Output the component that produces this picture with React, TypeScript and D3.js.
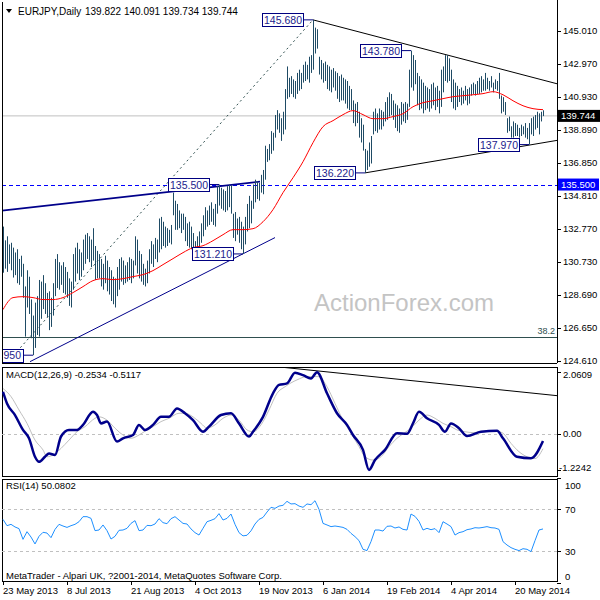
import React from 'react';
import * as d3 from 'd3';

// ---------- DATA ----------
const highs = [
  132.90,132.05,132.30,131.80,131.90,131.60,131.30,131.50,130.90,131.10,
  130.60,129.20,130.20,129.80,128.40,127.40,128.20,128.60,129.60,129.50,
  129.90,129.40,128.80,128.90,128.50,129.40,130.90,131.20,130.70,130.50,
  130.70,130.40,130.10,129.70,129.50,131.20,131.60,131.90,131.50,131.30,
  132.10,132.40,132.50,132.30,132.10,132.80,131.70,131.40,131.20,130.90,
  130.60,131.10,130.80,130.40,130.20,129.80,129.70,130.40,130.90,131.00,
  130.80,130.50,130.70,131.00,130.90,130.80,132.30,132.10,131.40,131.20,
  130.60,130.30,130.80,131.50,132.00,131.80,132.20,132.10,133.40,133.50,
  133.20,132.90,132.80,132.70,133.00,135.00,134.50,134.30,133.90,133.70,
  133.70,133.50,133.10,133.20,132.90,132.50,132.00,132.30,132.60,133.10,
  133.60,134.10,133.90,134.20,134.40,134.00,134.30,135.40,135.50,135.30,
  135.20,135.10,135.40,135.50,135.45,133.70,133.80,133.40,133.50,133.20,
  132.90,133.50,134.30,134.80,134.50,135.50,135.80,135.70,135.60,136.10,
  136.40,137.90,137.70,138.00,138.80,138.70,139.80,140.10,139.90,139.60,
  140.00,141.40,142.80,142.10,142.20,142.00,141.90,142.40,142.60,142.40,
  142.90,143.10,142.90,143.40,143.50,145.68,145.20,145.10,143.40,143.20,
  143.00,143.10,142.90,142.80,142.60,142.70,142.50,142.40,142.20,142.30,
  142.10,142.00,141.90,141.60,141.40,140.70,140.50,140.60,140.00,139.60,
  139.20,137.70,137.60,138.10,138.50,140.00,140.20,139.90,140.20,140.10,
  140.00,140.60,140.90,141.20,141.10,140.70,140.50,140.40,140.20,140.60,
  140.50,140.60,140.50,142.60,143.78,143.50,143.20,142.40,142.20,142.00,
  141.80,141.60,141.50,141.40,141.70,141.80,141.50,141.60,141.30,142.60,
  142.80,143.50,143.50,143.30,142.60,142.00,141.80,141.60,141.40,141.50,
  141.30,141.60,141.40,141.50,141.70,141.80,141.70,141.90,142.10,142.20,
  142.00,142.40,142.10,141.90,142.20,141.80,142.00,141.90,142.40,141.00,
  140.90,140.60,139.60,139.70,139.10,139.40,139.30,139.20,139.00,139.20,
  139.10,139.30,139.00,139.30,139.60,139.70,139.80,140.00,139.90,140.00,
  140.09,
];
const lows = [
  130.05,130.30,130.10,130.60,130.20,129.75,129.90,129.40,129.30,129.80,
  128.50,126.10,127.90,127.50,126.00,124.95,125.40,126.20,126.10,127.20,
  127.80,127.50,127.30,126.50,126.70,127.40,128.60,129.10,129.00,129.30,
  128.80,128.70,128.50,128.00,127.90,129.00,129.50,130.00,129.60,129.80,
  130.20,130.60,130.90,130.70,130.40,130.80,129.60,129.70,129.70,129.20,
  129.00,129.40,128.90,128.70,128.30,128.10,127.90,128.60,129.00,129.50,
  129.30,129.40,129.50,129.60,129.40,129.70,130.50,130.00,129.70,129.50,
  129.30,129.20,129.40,130.00,130.60,130.40,130.90,130.70,131.30,131.50,
  131.70,131.60,131.70,131.90,131.80,133.60,132.70,132.70,132.80,132.50,
  132.70,132.00,131.70,131.60,131.50,131.50,131.40,131.50,131.60,131.90,
  132.30,132.70,132.90,133.00,133.20,133.00,132.90,133.70,134.20,134.00,
  133.90,133.80,133.90,134.10,133.70,132.20,132.00,132.40,131.90,131.50,
  131.21,131.80,132.60,132.80,133.10,134.00,134.40,134.60,134.50,135.00,
  134.90,135.80,136.90,137.00,137.40,137.60,138.40,138.90,138.70,138.20,
  138.60,138.90,140.80,140.90,141.10,140.90,140.80,141.10,141.30,141.40,
  141.80,141.90,142.00,141.80,142.40,142.60,143.60,143.90,142.30,142.00,
  141.80,141.90,141.40,141.30,141.20,141.50,141.30,140.80,140.60,140.70,
  140.70,140.50,140.20,140.10,140.10,139.30,139.10,139.30,138.40,138.10,
  137.60,136.22,136.40,136.60,136.80,138.60,138.80,138.70,138.90,138.90,
  139.10,139.40,139.50,139.70,139.80,139.50,139.00,138.80,138.70,139.20,
  139.40,139.30,139.50,140.30,141.50,141.30,141.70,140.40,140.10,140.20,
  139.90,140.10,140.20,140.00,140.20,140.40,140.10,140.30,139.90,140.30,
  141.20,141.90,141.80,141.90,140.60,140.20,140.10,140.30,140.60,140.40,
  140.50,140.70,140.40,140.50,141.00,141.10,141.00,141.10,141.10,141.20,
  141.30,141.30,141.40,141.30,141.50,141.20,141.40,141.30,140.80,139.90,
  140.00,139.80,138.70,138.80,138.40,138.40,138.50,138.50,138.40,138.50,
  138.60,138.40,138.30,137.97,138.60,138.50,138.90,139.00,138.60,139.40,
  139.73,
];

// moving average, one value every 5 bars (bar 0, 5, 10 ... 270)
const maEvery5 = [
  127.77,128.51,128.57,128.51,128.39,128.39,128.51,128.82,129.19,129.56,
  129.68,129.62,129.68,129.81,129.93,130.18,130.55,130.92,131.29,131.60,
  131.72,132.03,132.40,132.71,132.71,132.77,133.20,133.95,135.00,135.92,
  136.91,138.09,139.08,139.45,139.82,140.07,139.82,139.57,139.57,139.70,
  139.88,140.31,140.56,140.68,140.81,140.93,140.99,141.05,141.12,141.24,
  141.05,140.68,140.37,140.19,140.13,
];

const macdIdx = [0,2,6,10,13,16,18,21,23,26,29,33,37,40,45,47,49,52,57,60,65,68,71,75,79,83,87,91,95,100,103,109,114,118,123,125,130,135,138,142,146,150,154,157,162,167,172,175,180,183,186,191,197,202,205,208,212,218,221,224,228,232,239,247,250,257,264,270];
const macdMain = [1.40,1.01,0.62,0.12,-0.16,-0.78,-0.95,-0.78,-0.67,-0.72,-0.10,0.12,0.12,0.29,0.73,0.62,0.34,0.40,-0.27,-0.16,-0.05,0.29,0.12,0.29,0.56,0.56,0.84,0.68,0.45,0.06,0.23,0.62,0.68,0.34,-0.10,0.06,0.56,1.35,1.63,1.68,2.04,1.96,1.85,2.06,1.35,0.68,0.29,-0.05,-0.55,-1.22,-0.89,-0.55,0.01,-0.01,0.34,0.73,0.51,0.29,0.06,0.34,0.18,-0.08,0.06,0.09,-0.16,-0.78,-0.83,-0.25];
const sigIdx = [0,4,8,12,16,20,22,25,29,33,37,41,46,48,52,56,60,64,68,72,75,79,83,88,91,95,99,102,106,110,114,118,122,125,129,133,137,141,147,152,158,162,166,170,174,178,181,185,189,193,197,200,204,208,212,216,220,224,227,231,235,241,246,250,254,258,262,266,270];
const macdSignal = [1.51,1.24,0.79,0.34,-0.22,-0.55,-0.78,-0.72,-0.50,-0.22,0.06,0.23,0.51,0.56,0.45,0.18,-0.05,-0.16,-0.05,0.12,0.23,0.40,0.51,0.68,0.68,0.56,0.34,0.18,0.29,0.51,0.62,0.45,0.12,0.06,0.29,0.79,1.35,1.57,1.80,1.91,1.91,1.57,1.01,0.45,0.01,-0.44,-0.78,-0.89,-0.78,-0.44,-0.16,-0.01,0.18,0.45,0.62,0.51,0.34,0.23,0.12,0.06,0.03,0.06,0.09,0.01,-0.33,-0.61,-0.78,-0.84,-0.51];

// RSI(14), one value every 2 bars
const rsiEvery2 = [
  60.1,54.1,55.4,52.9,51.3,41.1,48.4,43.3,36.7,44.0,
  47.8,47.1,42.7,50.6,55.4,53.8,52.5,54.1,55.4,57.9,
  62.7,62.7,61.1,49.4,50.0,54.8,49.4,41.4,44.0,49.7,
  50.0,51.6,56.3,58.9,49.4,50.0,54.4,54.1,55.7,60.8,
  57.0,56.0,60.8,62.7,59.5,56.3,55.7,51.0,47.5,45.2,
  51.6,57.9,59.2,60.8,65.6,59.5,61.1,65.2,55.4,47.5,
  44.4,45.0,49.2,55.7,60.1,62.0,67.1,71.6,70.6,72.8,
  73.5,77.3,74.8,75.1,72.8,71.6,74.8,74.1,77.9,69.7,
  56.3,54.8,53.2,53.8,53.2,52.5,50.6,46.8,43.7,39.9,
  31.6,30.4,39.0,50.0,50.0,49.0,53.5,53.8,51.9,52.9,
  50.6,50.0,65.2,63.0,58.2,50.0,51.6,50.3,51.3,47.5,
  57.9,55.7,53.2,45.2,47.5,48.4,50.3,51.0,52.2,51.9,
  52.5,53.2,52.2,51.9,50.6,38.9,35.7,33.2,31.6,30.4,
  32.2,31.6,29.4,39.9,50.0,51.0,
];

const priceTicks = [145.01,142.97,140.93,138.89,136.85,134.81,132.77,130.73,128.69,126.65,124.61];
const macdTicks = [2.0609, 0, -1.2242];
const macdTickLabels = ['2.0609', '0.00', '-1.2242'];
const rsiTicks = [100, 70, 30, 0];
const dateBars = [0, 32, 64, 96, 128, 160, 192, 224, 256];
const dateLabels = ['23 May 2013','8 Jul 2013','21 Aug 2013','4 Oct 2013','19 Nov 2013','6 Jan 2014','19 Feb 2014','4 Apr 2014','20 May 2014'];

// the last label (124.950) is cut by the left edge in the chart: only "950" shows
const pointLabels = ['145.680','143.780','136.220','137.970','131.210','135.500','950'];
const pointBars = [155, 204, 181, 263, 120, 108, 15];
const pointPrices = [145.68, 143.78, 136.22, 137.97, 131.21, 135.50, 124.95];

// trend lines: [barA, priceA, barB, priceB]
const triangleLines = [[155,145.68,277,141.73],[181,136.22,277,138.23]];
const channelTop = [-0.5,133.89,128.5,135.68];
const channelBottom = [13.5,124.55,136,132.22];
const fibDiagonal = [2,124.49,155,145.68];
const fibLevel = 126.10;
const resistanceLevel = 135.50;
const bidPrice = 139.744;
const macdTrend = [133,2.27,277,1.27];
const lastBar = 270;

const FONT = "'Liberation Sans', Arial, sans-serif";

export default function App() {
  const L = 2, R = 557;
  const mainTop = 2, mainBot = 363;
  const mTop = 367, mBot = 476;
  const rTop = 479, rBot = 581;

  const x = d3.scaleLinear().domain([0, lastBar]).range([3, 543]);
  const yP = d3.scaleLinear().domain([124.61, 145.01]).range([360.7, 30.7]);
  const yM = d3.scaleLinear().domain([-1.2242, 2.0609]).range([470, 372.1]);
  const yR = d3.scaleLinear().domain([0, 100]).range([582.5, 477.5]);
  const f3 = d3.format('.3f');

  const maLine = d3.line<number>().x((_, i) => x(i * 5)).y(d => yP(d)).curve(d3.curveMonotoneX)(maEvery5) || '';
  const macdLine = d3.line<number>().x((_, i) => x(macdIdx[i])).y(d => yM(d)).curve(d3.curveMonotoneX)(macdMain) || '';
  const sigLine = d3.line<number>().x((_, i) => x(sigIdx[i])).y(d => yM(d)).curve(d3.curveMonotoneX)(macdSignal) || '';
  const rsiLine = d3.line<number>().x((_, i) => x(i * 2)).y(d => yR(d))(rsiEvery2) || '';

  const seg = (s: number[], ys: (v: number) => number, props: any, key: string) => (
    <line key={key} x1={x(s[0])} y1={ys(s[1])} x2={x(s[2])} y2={ys(s[3])} {...props} />
  );

  return (
    <svg width={600} height={600} style={{ position: 'absolute', left: 0, top: 0, background: '#fff' }} fontFamily={FONT}>
      <defs>
        <clipPath id="cMain"><rect x={L} y={mainTop} width={R - L} height={mainBot - mainTop} /></clipPath>
        <clipPath id="cMacd"><rect x={L} y={mTop} width={R - L} height={mBot - mTop} /></clipPath>
        <clipPath id="cRsi"><rect x={L} y={rTop} width={R - L} height={rBot - rTop} /></clipPath>
      </defs>
      <rect x={0} y={0} width={600} height={600} fill="#fff" />

      {/* ---------- MAIN PANEL ---------- */}
      <g clipPath="url(#cMain)">
        <text x={314} y={311} fontSize={24} fill="#c4c4c4">ActionForex.com</text>
        <line x1={L} x2={R} y1={yP(bidPrice)} y2={yP(bidPrice)} stroke="#c0c0c0" strokeWidth={1} />
        <line x1={L} x2={R} y1={Math.round(yP(resistanceLevel)) + 0.5} y2={Math.round(yP(resistanceLevel)) + 0.5} stroke="#0000ff" strokeWidth={1} strokeDasharray="4,3" />
        <line x1={L} x2={R} y1={Math.round(yP(fibLevel)) + 0.5} y2={Math.round(yP(fibLevel)) + 0.5} stroke="#2f4f4f" strokeWidth={1} />
        <text x={555} y={yP(fibLevel) - 3} fontSize={9} fill="#2f4f4f" textAnchor="end">38.2</text>
        {seg(fibDiagonal, yP, { stroke: '#2f4f4f', strokeWidth: 1, strokeDasharray: '2,3' }, 'fib')}
        {seg(channelTop, yP, { stroke: '#00008b', strokeWidth: 1.6 }, 'ct')}
        {seg(channelBottom, yP, { stroke: '#00008b', strokeWidth: 1 }, 'cb')}
        {triangleLines.map((t, i) => seg(t, yP, { stroke: '#000', strokeWidth: 1 }, 'tri' + i))}
        {highs.map((h, i) => (
          <line key={'b' + i} x1={Math.round(x(i)) + 0.5} x2={Math.round(x(i)) + 0.5} y1={yP(h)} y2={yP(lows[i])} stroke="#1f4b65" strokeWidth={1} />
        ))}
        <path d={maLine} fill="none" stroke="#ff0000" strokeWidth={1} />
        {pointLabels.map((t, i) => {
          const ax = x(pointBars[i]);
          const ay = yP(pointPrices[i]);
          const bw = 41, bh = 13;
          const bx = ax - 10 - bw;
          const cut = bx < L;
          return (
            <g key={'pl' + i}>
              <line x1={bx + bw} x2={ax} y1={ay} y2={ay} stroke="#000080" strokeWidth={1} />
              <rect x={Math.round(bx) + 0.5} y={Math.round(ay - bh / 2) + 0.5} width={bw} height={bh} fill="#fff" stroke="#000080" strokeWidth={1} />
              <text x={cut ? bx + bw - 2 : bx + bw / 2 + 0.5} y={ay + 4} fontSize={10.5} fill="#1c1c8c" textAnchor={cut ? 'end' : 'middle'}>{t}</text>
            </g>
          );
        })}
      </g>
      {/* header */}
      <path d="M6,9 L12,9 L9,13 Z" fill="#000" />
      <text x={18} y={15} fontSize={10} fill="#000">EURJPY,Daily</text>
      <text x={85} y={15} fontSize={10} fill="#000">139.822 140.091 139.734 139.744</text>
      {/* frame main */}
      <line x1={L + 0.5} x2={L + 0.5} y1={mainTop} y2={mainBot} stroke="#000" />
      <line x1={L} x2={R} y1={mainBot + 0.5} y2={mainBot + 0.5} stroke="#000" />
      <line x1={R + 0.5} x2={R + 0.5} y1={0} y2={mainBot} stroke="#000" />
      {priceTicks.map((p, i) => (
        <g key={'pt' + i}>
          <line x1={R} x2={R + 4} y1={Math.round(yP(p)) + 0.5} y2={Math.round(yP(p)) + 0.5} stroke="#000" />
          <text x={563} y={yP(p) + 3.5} fontSize={9.5} fill="#000">{f3(p)}</text>
        </g>
      ))}
      <rect x={R + 1} y={yP(resistanceLevel) - 6} width={41} height={12} fill="#0000ff" />
      <text x={561} y={yP(resistanceLevel) + 3.5} fontSize={9.5} fill="#fff">{f3(resistanceLevel)}</text>
      <rect x={R + 1} y={yP(bidPrice) - 6} width={43} height={12} fill="#000" />
      <text x={561} y={yP(bidPrice) + 3.5} fontSize={9.5} fill="#fff">{f3(bidPrice)}</text>

      {/* ---------- MACD PANEL ---------- */}
      <rect x={L + 0.5} y={mTop + 0.5} width={R - L} height={mBot - mTop} fill="none" stroke="#000" />
      <g clipPath="url(#cMacd)">
        <line x1={L} x2={R} y1={Math.round(yM(0)) + 0.5} y2={Math.round(yM(0)) + 0.5} stroke="#c0c0c0" strokeDasharray="3,3" />
        {seg(macdTrend, yM, { stroke: '#000', strokeWidth: 1 }, 'mt')}
        <path d={sigLine} fill="none" stroke="#c0c0c0" strokeWidth={1} />
        <path d={macdLine} fill="none" stroke="#00008b" strokeWidth={2.5} strokeLinejoin="round" />
      </g>
      <text x={6} y={378} fontSize={9.5} fill="#000">MACD(12,26,9) -0.2534 -0.5117</text>
      {macdTicks.map((v, i) => {
        const yy = Math.min(Math.max(yM(v), mTop + 7), mBot - 9);
        return (
          <g key={'mt' + i}>
            <line x1={R} x2={R + 4} y1={Math.round(yM(v)) + 0.5} y2={Math.round(yM(v)) + 0.5} stroke="#000" />
            <text x={v < 0 ? 559 : 563} y={yy + 3.5} fontSize={9.5} fill="#000">{macdTickLabels[i]}</text>
          </g>
        );
      })}

      {/* ---------- RSI PANEL ---------- */}
      <rect x={L + 0.5} y={rTop + 0.5} width={R - L} height={rBot - rTop} fill="none" stroke="#000" />
      <g clipPath="url(#cRsi)">
        {[70, 30].map(v => (
          <line key={'rl' + v} x1={L} x2={R} y1={Math.round(yR(v)) + 0.5} y2={Math.round(yR(v)) + 0.5} stroke="#c0c0c0" strokeDasharray="3,3" />
        ))}
        <path d={rsiLine} fill="none" stroke="#1e90ff" strokeWidth={1} />
      </g>
      <text x={6} y={489} fontSize={9.5} fill="#000">RSI(14) 50.0802</text>
      <text x={6} y={579} fontSize={9.5} fill="#000">MetaTrader - Alpari UK, ?2001-2014, MetaQuotes Software Corp.</text>
      {rsiTicks.map(v => {
        const yy = Math.min(Math.max(yR(v), rTop + 6), rBot - 5);
        return (
          <g key={'rt' + v}>
            <line x1={R} x2={R + 4} y1={Math.round(yR(v)) + 0.5} y2={Math.round(yR(v)) + 0.5} stroke="#000" />
            <text x={565} y={yy + 3.5} fontSize={9.5} fill="#000">{v}</text>
          </g>
        );
      })}

      {/* ---------- DATE AXIS ---------- */}
      {dateBars.map((b, i) => (
        <g key={'d' + i}>
          <line x1={Math.round(x(b)) + 0.5} x2={Math.round(x(b)) + 0.5} y1={rBot} y2={rBot + 4} stroke="#000" />
          <text x={x(b)} y={594} fontSize={9.5} fill="#000">{dateLabels[i]}</text>
        </g>
      ))}
    </svg>
  );
}
